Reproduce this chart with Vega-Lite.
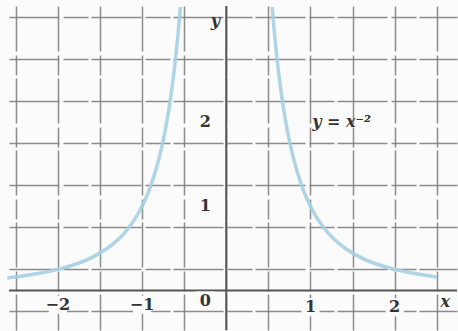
{
  "$schema": "https://vega.github.io/schema/vega-lite/v6.json",
  "width": 458,
  "height": 331,
  "autosize": {"type": "fit", "contains": "padding"},
  "padding": 0,
  "background": "#fbfbfb",
  "config": {"view": {"stroke": null}},
  "datasets": {
    "curve": [
      {"branch": "left", "x": -2.6, "y": 0.1479},
      {"branch": "left", "x": -2.4, "y": 0.1736},
      {"branch": "left", "x": -2.2, "y": 0.2066},
      {"branch": "left", "x": -2.0, "y": 0.25},
      {"branch": "left", "x": -1.8, "y": 0.3086},
      {"branch": "left", "x": -1.6, "y": 0.3906},
      {"branch": "left", "x": -1.4, "y": 0.5102},
      {"branch": "left", "x": -1.2, "y": 0.6944},
      {"branch": "left", "x": -1.1, "y": 0.8264},
      {"branch": "left", "x": -1.0, "y": 1.0},
      {"branch": "left", "x": -0.9, "y": 1.2346},
      {"branch": "left", "x": -0.8, "y": 1.5625},
      {"branch": "left", "x": -0.75, "y": 1.7778},
      {"branch": "left", "x": -0.7, "y": 2.0408},
      {"branch": "left", "x": -0.65, "y": 2.3669},
      {"branch": "left", "x": -0.6, "y": 2.7778},
      {"branch": "left", "x": -0.57, "y": 3.0779},
      {"branch": "left", "x": -0.545, "y": 3.3668},
      {"branch": "right", "x": 0.545, "y": 3.3668},
      {"branch": "right", "x": 0.57, "y": 3.0779},
      {"branch": "right", "x": 0.6, "y": 2.7778},
      {"branch": "right", "x": 0.65, "y": 2.3669},
      {"branch": "right", "x": 0.7, "y": 2.0408},
      {"branch": "right", "x": 0.75, "y": 1.7778},
      {"branch": "right", "x": 0.8, "y": 1.5625},
      {"branch": "right", "x": 0.9, "y": 1.2346},
      {"branch": "right", "x": 1.0, "y": 1.0},
      {"branch": "right", "x": 1.1, "y": 0.8264},
      {"branch": "right", "x": 1.2, "y": 0.6944},
      {"branch": "right", "x": 1.4, "y": 0.5102},
      {"branch": "right", "x": 1.6, "y": 0.3906},
      {"branch": "right", "x": 1.8, "y": 0.3086},
      {"branch": "right", "x": 2.0, "y": 0.25},
      {"branch": "right", "x": 2.2, "y": 0.2066},
      {"branch": "right", "x": 2.5, "y": 0.16}
    ],
    "labels": [
      {"t": "−2", "x": -2.0, "y": -0.17},
      {"t": "−1", "x": -1.0, "y": -0.17},
      {"t": "0", "x": -0.25, "y": -0.12},
      {"t": "1", "x": 1.0, "y": -0.2},
      {"t": "2", "x": 2.0, "y": -0.2},
      {"t": "1", "x": -0.25, "y": 1.0},
      {"t": "2", "x": -0.25, "y": 2.0}
    ]
  },
  "layer": [
    {
      "data": {"values": [{"a": 0}]},
      "mark": {"type": "point", "opacity": 0},
      "encoding": {
        "x": {
          "field": "a", "type": "quantitative",
          "scale": {"domain": [-2.58, 2.74], "nice": false, "zero": false},
          "axis": {"values": [-2.5, -2.25, -2, -1.75, -1.5, -1.25, -1, -0.75, -0.5, -0.25, 0, 0.25, 0.5, 0.75, 1, 1.25, 1.5, 1.75, 2, 2.25, 2.5],
                   "labels": false, "ticks": false, "domain": false, "title": null,
                   "grid": true, "gridColor": "#7f7f7f", "gridWidth": 1.5, "gridOpacity": 0.9, "gridDash": [45, 4, 20, 3]}
        },
        "y": {
          "field": "a", "type": "quantitative",
          "scale": {"domain": [-0.47, 3.38], "nice": false, "zero": false},
          "axis": {"values": [-0.25, 0, 0.25, 0.5, 0.75, 1, 1.25, 1.5, 1.75, 2, 2.25, 2.5, 2.75, 3, 3.25],
                   "labels": false, "ticks": false, "domain": false, "title": null,
                   "grid": true, "gridColor": "#7f7f7f", "gridWidth": 1.5, "gridOpacity": 0.9, "gridDash": [50, 4, 25, 3]}
        }
      }
    },
    {
      "data": {"values": [{"x": -2.58, "x2": 2.74, "y": 0}]},
      "mark": {"type": "rule", "color": "#555", "strokeWidth": 2},
      "encoding": {
        "x": {"field": "x", "type": "quantitative"},
        "x2": {"field": "x2"},
        "y": {"field": "y", "type": "quantitative"}
      }
    },
    {
      "data": {"values": [{"x": 0, "y": -0.47, "y2": 3.38}]},
      "mark": {"type": "rule", "color": "#555", "strokeWidth": 2},
      "encoding": {
        "x": {"field": "x", "type": "quantitative"},
        "y": {"field": "y", "type": "quantitative"},
        "y2": {"field": "y2"}
      }
    },
    {
      "data": {"name": "curve"},
      "mark": {"type": "line", "color": "#a6cfe2", "strokeWidth": 3.5, "opacity": 0.9, "interpolate": "monotone"},
      "encoding": {
        "x": {"field": "x", "type": "quantitative"},
        "y": {"field": "y", "type": "quantitative"},
        "detail": {"field": "branch"}
      }
    },
    {
      "data": {"name": "labels"},
      "mark": {"type": "point", "shape": "square", "filled": true, "color": "#fbfbfb", "size": 330, "opacity": 1},
      "encoding": {
        "x": {"field": "x", "type": "quantitative"},
        "y": {"field": "y", "type": "quantitative"}
      }
    },
    {
      "data": {"name": "labels"},
      "mark": {"type": "text", "font": "DejaVu Serif", "fontWeight": "bold", "fontSize": 16, "color": "#333"},
      "encoding": {
        "x": {"field": "x", "type": "quantitative"},
        "y": {"field": "y", "type": "quantitative"},
        "text": {"field": "t"}
      }
    },
    {
      "data": {"values": [{"t": "y = x⁻²", "x": 1.37, "y": 2.0}, {"t": "y", "x": -0.13, "y": 3.2}, {"t": "x", "x": 2.6, "y": -0.14}]},
      "mark": {"type": "text", "font": "DejaVu Serif", "fontStyle": "italic", "fontWeight": "bold", "fontSize": 16, "color": "#333"},
      "encoding": {
        "x": {"field": "x", "type": "quantitative"},
        "y": {"field": "y", "type": "quantitative"},
        "text": {"field": "t"}
      }
    }
  ]
}
